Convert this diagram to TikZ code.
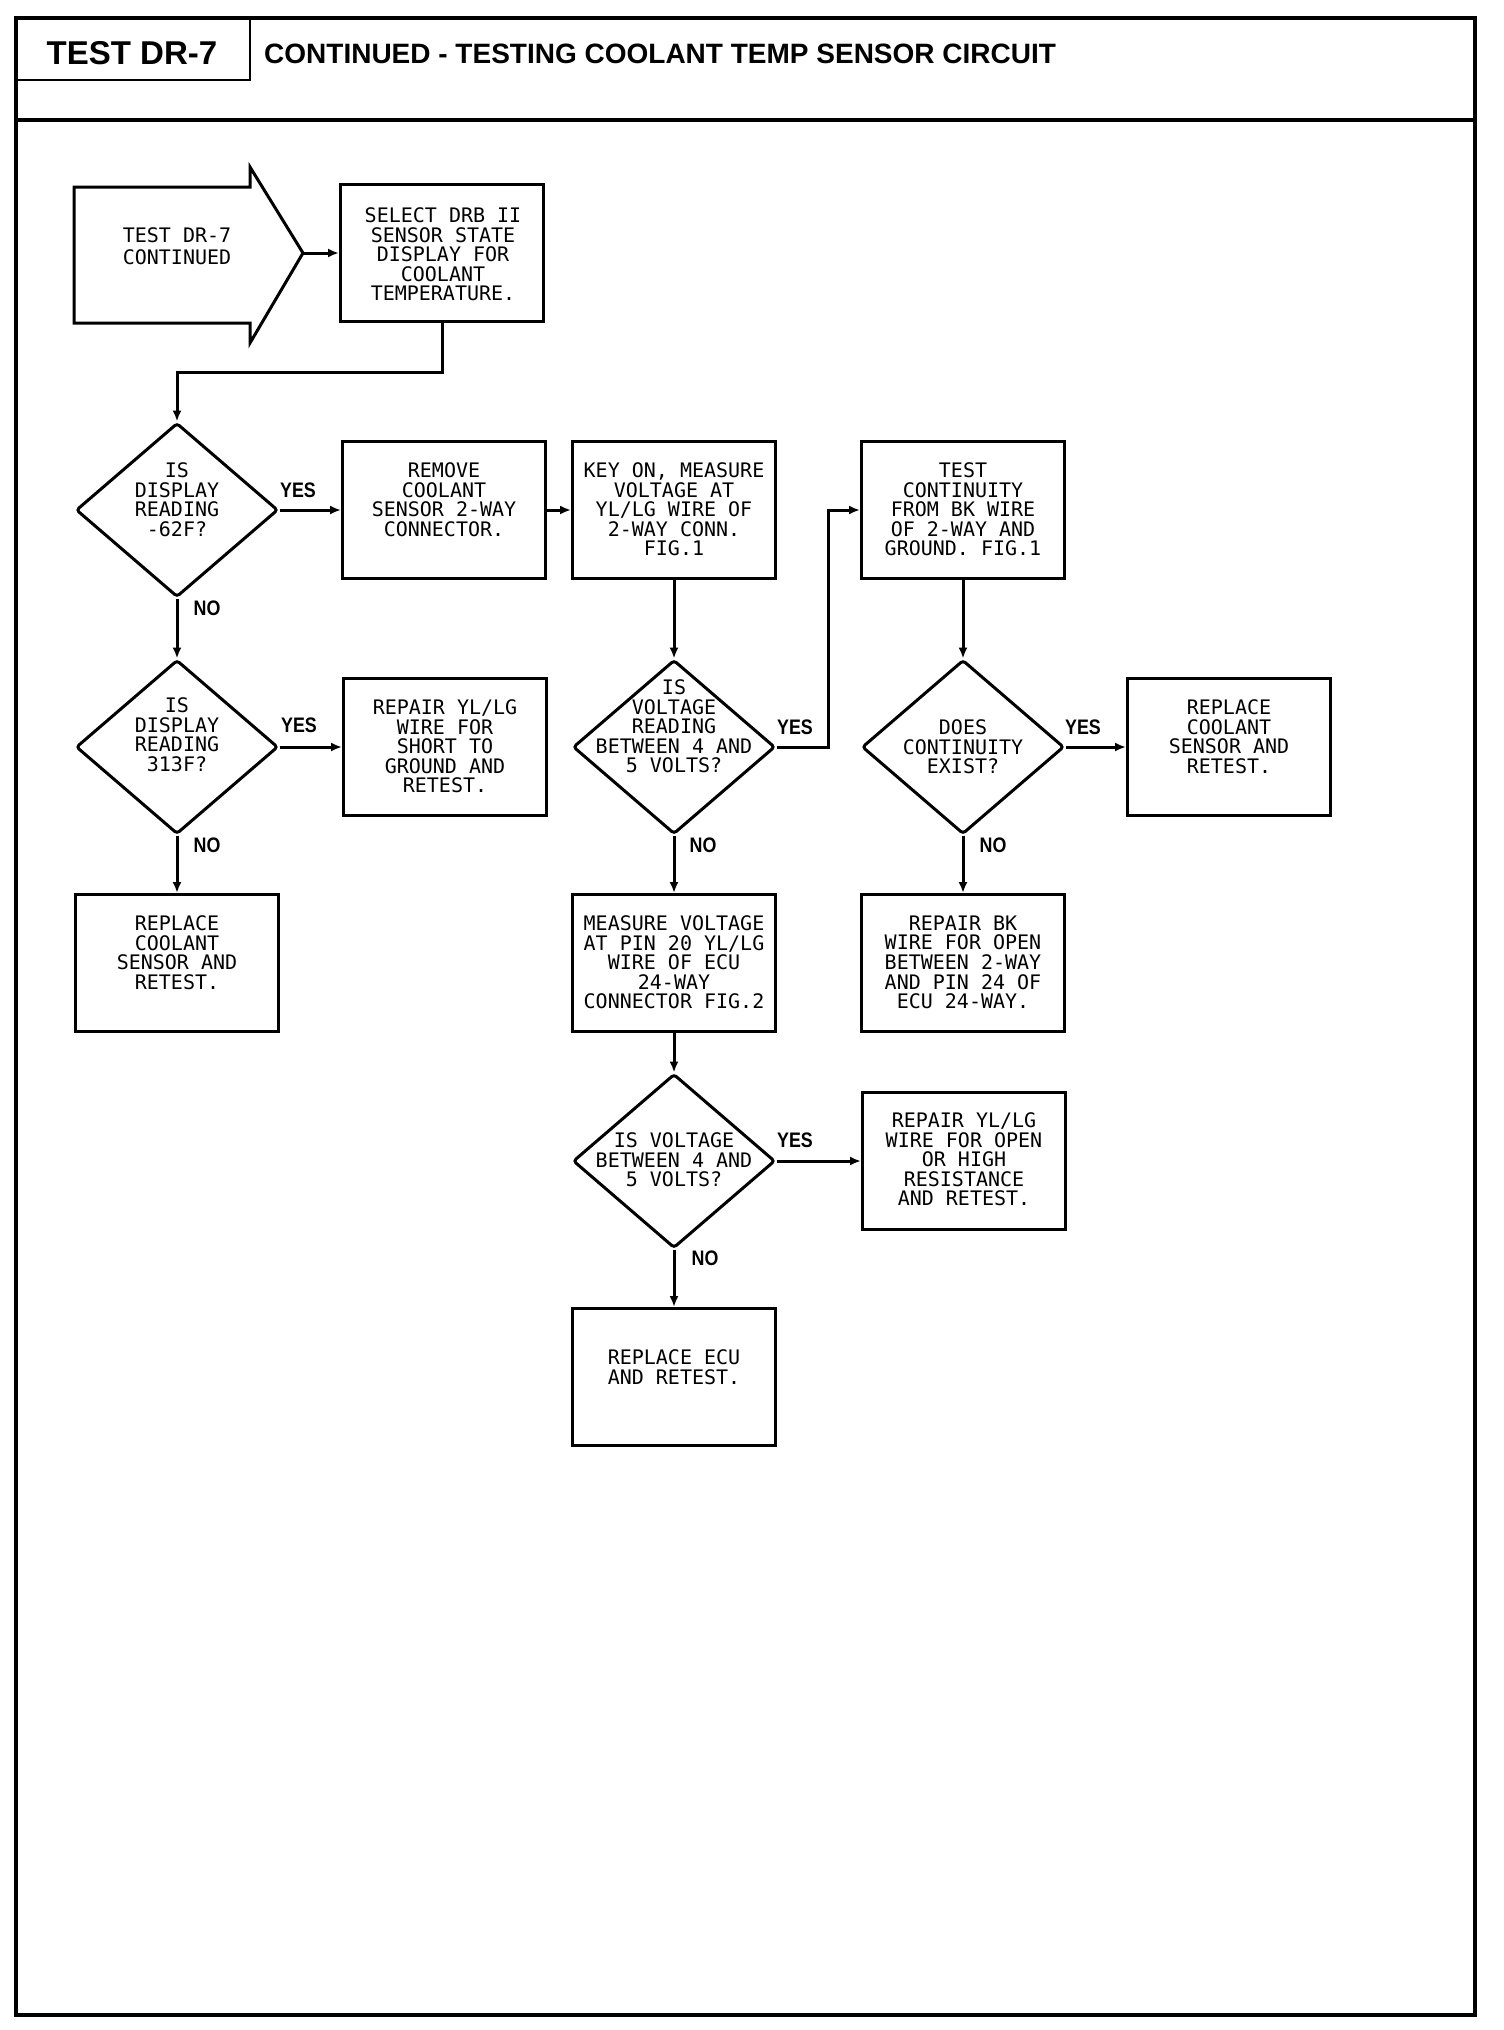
\documentclass[tikz,border=0pt]{standalone}
\usepackage{fontspec}
\usetikzlibrary{shapes.geometric,arrows.meta,calc}
\newfontfamily\plotfont{DejaVu Sans Mono}
\newfontfamily\hfont{Liberation Sans}
\begin{document}
\begin{tikzpicture}[x=1pt,y=-1pt,
  boxnode/.style={draw,line width=3pt,minimum width=203pt,minimum height=137pt,inner sep=0pt},
  dia/.style={draw,diamond,line width=3pt,minimum width=202pt,minimum height=174pt,inner sep=0pt,rounded corners=3pt},
  txt/.style={font=\plotfont\fontsize{20}{19.6}\selectfont,align=center,anchor=north,inner sep=0pt},
  lbl/.style={font=\hfont\bfseries\fontsize{21}{21}\selectfont,inner sep=0pt},
  arr/.style={line width=3pt,-{Latex[length=11pt,width=9pt]}},
]
\useasboundingbox (0,0) rectangle (1504,2030);
% frame
\draw[line width=4pt] (16,18) rectangle (1475,2015);
\draw[line width=4pt] (16,120) -- (1475,120);
\draw[line width=2pt] (250,18) -- (250,80) -- (16,80);
\node[font=\hfont\bfseries\fontsize{33}{33}\selectfont,inner sep=0pt] (h1) at (132,53) {TEST DR-7};
\node[font=\hfont\bfseries\fontsize{28}{28}\selectfont,anchor=west,inner sep=0pt] (h2) at (264,54) {CONTINUED - TESTING COOLANT TEMP SENSOR CIRCUIT};

% start arrow shape
\draw[line width=3pt,line join=miter] (74,187) -- (250,187) -- (250,167) -- (303,253) -- (250,343) -- (250,323) -- (74,323) -- cycle;
\coordinate (tip) at (303,253);
\node[txt,font=\plotfont\fontsize{20}{22}\selectfont] (t0) at (177,227.5) {TEST DR-7\\CONTINUED};

% boxes
\node[boxnode] (b1) at (442,253) {};
\node[boxnode] (b2) at (444,510) {};
\node[boxnode] (b3) at (674,510) {};
\node[boxnode] (b6) at (963,510) {};
\node[boxnode] (b4) at (445,747) {};
\node[boxnode] (b7) at (1229,747) {};
\node[boxnode] (b5) at (177,963) {};
\node[boxnode] (b8) at (674,963) {};
\node[boxnode] (b9) at (963,963) {};
\node[boxnode] (b10) at (964,1161) {};
\node[boxnode] (b11) at (674,1377) {};

% diamonds
\node[dia] (d1) at (177,510) {};
\node[dia] (d2) at (177,747) {};
\node[dia] (d3) at (674,747) {};
\node[dia] (d4) at (963,747) {};
\node[dia] (d5) at (674,1161) {};

% texts
\node[txt] (t1) at (443,207.5) {SELECT DRB II\\SENSOR STATE\\DISPLAY FOR\\COOLANT\\TEMPERATURE.};
\node[txt] (t2) at (444,462.5) {REMOVE\\COOLANT\\SENSOR 2-WAY\\CONNECTOR.};
\node[txt] (t3) at (674,462.5) {KEY ON, MEASURE\\VOLTAGE AT\\YL/LG WIRE OF\\2-WAY CONN.\\FIG.1};
\node[txt] (t6) at (963,462.5) {TEST\\CONTINUITY\\FROM BK WIRE\\OF 2-WAY AND\\GROUND. FIG.1};
\node[txt] (td1) at (177,462.5) {IS\\DISPLAY\\READING\\-62F?};
\node[txt] (td2) at (177,697.5) {IS\\DISPLAY\\READING\\313F?};
\node[txt] (t4) at (445,699.5) {REPAIR YL/LG\\WIRE FOR\\SHORT TO\\GROUND AND\\RETEST.};
\node[txt] (td3) at (674,679.5) {IS\\VOLTAGE\\READING\\BETWEEN 4 AND\\5 VOLTS?};
\node[txt] (td4) at (963,719.5) {DOES\\CONTINUITY\\EXIST?};
\node[txt] (t7) at (1229,699.5) {REPLACE\\COOLANT\\SENSOR AND\\RETEST.};
\node[txt] (t5) at (177,915.5) {REPLACE\\COOLANT\\SENSOR AND\\RETEST.};
\node[txt] (t8) at (674,915.5) {MEASURE VOLTAGE\\AT PIN 20 YL/LG\\WIRE OF ECU\\24-WAY\\CONNECTOR FIG.2};
\node[txt] (t9) at (963,915.5) {REPAIR BK\\WIRE FOR OPEN\\BETWEEN 2-WAY\\AND PIN 24 OF\\ECU 24-WAY.};
\node[txt] (td5) at (674,1132.5) {IS VOLTAGE\\BETWEEN 4 AND\\5 VOLTS?};
\node[txt] (t10) at (964,1112.5) {REPAIR YL/LG\\WIRE FOR OPEN\\OR HIGH\\RESISTANCE\\AND RETEST.};
\node[txt] (t11) at (674,1349.5) {REPLACE ECU\\AND RETEST.};

% labels
\node[lbl] (y1) at (298,490) {\scalebox{0.85}[1]{YES}};
\node[lbl] (n1) at (207,608) {\scalebox{0.85}[1]{NO}};
\node[lbl] (y2) at (299,725) {\scalebox{0.85}[1]{YES}};
\node[lbl] (n2) at (207,845) {\scalebox{0.85}[1]{NO}};
\node[lbl] (y3) at (795,727) {\scalebox{0.85}[1]{YES}};
\node[lbl] (n3) at (703,845) {\scalebox{0.85}[1]{NO}};
\node[lbl] (y4) at (1083,727) {\scalebox{0.85}[1]{YES}};
\node[lbl] (n4) at (993,845) {\scalebox{0.85}[1]{NO}};
\node[lbl] (y5) at (795,1140) {\scalebox{0.85}[1]{YES}};
\node[lbl] (n5) at (705,1258) {\scalebox{0.85}[1]{NO}};

% connectors
\coordinate (j1) at (177,372);
\draw[arr] (tip) -- (tip -| b1.west);
\draw[arr] (b1.south) |- (j1) -- (d1.north);
\draw[arr] (d1.east) -- (b2.west);
\draw[arr] (b2.east) -- (b3.west);
\draw[arr] (d1.south) -- (d2.north);
\draw[arr] (d2.east) -- (b4.west);
\draw[arr] (d2.south) -- (b5.north);
\draw[arr] (b3.south) -- (d3.north);
\draw[arr] (d3.east) -| ($(b6.west)+(-32,0)$) -- (b6.west);
\draw[arr] (b6.south) -- (d4.north);
\draw[arr] (d4.east) -- (b7.west);
\draw[arr] (d4.south) -- (b9.north);
\draw[arr] (d3.south) -- (b8.north);
\draw[arr] (b8.south) -- (d5.north);
\draw[arr] (d5.east) -- (b10.west);
\draw[arr] (d5.south) -- (b11.north);
\end{tikzpicture}
\end{document}
